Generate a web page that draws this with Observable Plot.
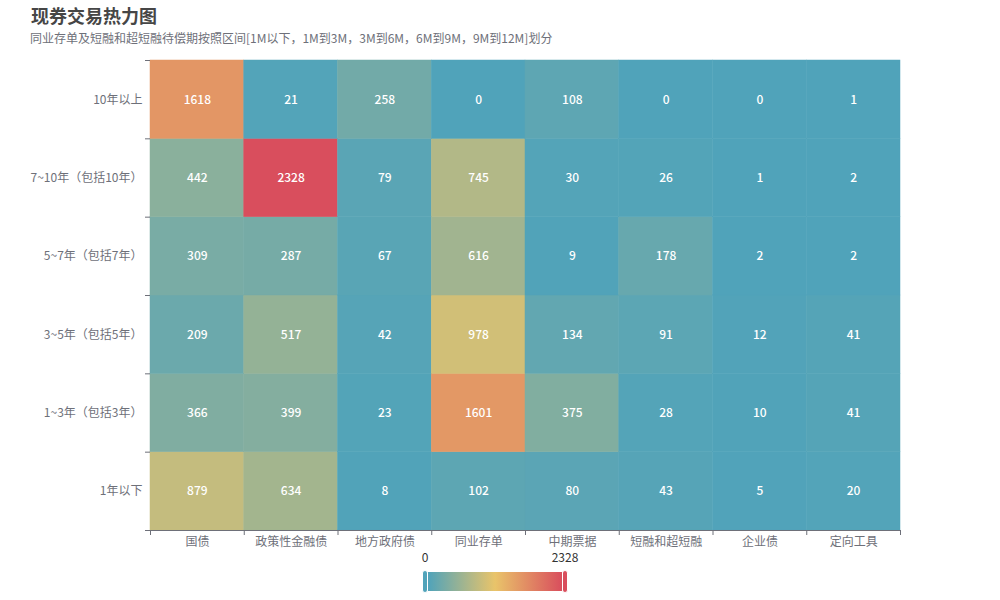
<!DOCTYPE html>
<html><head><meta charset="utf-8">
<script src="https://cdn.jsdelivr.net/npm/d3@7"></script>
<script src="https://cdn.jsdelivr.net/npm/@observablehq/plot@0.6"></script>
<style>
body{margin:0;background:#fff;font-family:"Microsoft YaHei","Noto Sans CJK SC",sans-serif;}
#wrap{position:relative;width:1000px;height:600px;overflow:hidden}
#title{position:absolute;left:31px;top:2px;font-size:18px;font-weight:bold;color:#464646;white-space:nowrap}
#sub{position:absolute;left:30px;top:29px;font-size:12px;color:#6e7079;white-space:nowrap}
#chart{position:absolute;left:0;top:50px}
.lab{position:absolute;font-size:12px;color:#333;transform:translateX(-50%);top:550px;line-height:14px}
#bar{position:absolute;left:428px;top:572px;width:134px;height:19px}
.handle{position:absolute;top:570px;width:6px;height:23px;border-radius:3px;border:1px solid #fff;box-sizing:border-box}
</style></head>
<body>
<div id="wrap">
  <div id="title">现券交易热力图</div>
  <div id="sub">同业存单及短融和超短融待偿期按照区间[1M以下，1M到3M，3M到6M，6M到9M，9M到12M]划分</div>
  <div id="chart"></div>
  <div id="lab0" class="lab" style="left:425px"></div>
  <div id="lab1" class="lab" style="left:565px"></div>
  <div id="bar"></div>
  <div id="h0" class="handle" style="left:422px"></div>
  <div id="h1" class="handle" style="left:562px"></div>
</div>
<script>
const xCats = ['国债','政策性金融债','地方政府债','同业存单','中期票据','短融和超短融','企业债','定向工具'];
// bottom to top
const yCats = ['1年以下','1~3年（包括3年）','3~5年（包括5年）','5~7年（包括7年）','7~10年（包括10年）','10年以上'];
const row1y   = [879, 634, 8, 102, 80, 43, 5, 20];
const row1to3 = [366, 399, 23, 1601, 375, 28, 10, 41];
const row3to5 = [209, 517, 42, 978, 134, 91, 12, 41];
const row5to7 = [309, 287, 67, 616, 9, 178, 2, 2];
const row7to10 = [442, 2328, 79, 745, 30, 26, 1, 2];
const row10up = [1618, 21, 258, 0, 108, 0, 0, 1];
const rows = [row1y, row1to3, row3to5, row5to7, row7to10, row10up];
const colorRange = ['#50a3ba', '#e9c46a', '#d94e5d'];

const cells = [];
rows.forEach((r, yi) => r.forEach((v, xi) => cells.push({xi, yi, value: v})));
const vmin = 0, vmax = d3.max(cells, d => d.value);

const axisColor = "#6e7079";
const chart = Plot.plot({
  width: 1000, height: 502,
  marginLeft: 150, marginRight: 100, marginTop: 10, marginBottom: 22,
  x: {domain: [0, xCats.length]},
  y: {domain: [0, yCats.length]},
  color: {type: "linear", domain: [vmin, (vmin + vmax) / 2, vmax], range: colorRange, interpolate: "rgb"},
  style: {fontFamily: '"Microsoft YaHei","Noto Sans CJK SC",sans-serif', fontSize: "12px", color: axisColor, background: "white"},
  marks: [
    Plot.rect(cells, {x1: "xi", x2: d => d.xi + 1, y1: "yi", y2: d => d.yi + 1, fill: "value", stroke: "value", strokeWidth: 0.5}),
    Plot.text(cells, {x: d => d.xi + 0.5, y: d => d.yi + 0.5, text: d => String(d.value), fill: "white", fontSize: 12, fontWeight: 500}),
    Plot.axisX({ticks: d3.range(xCats.length).map(i => i + 0.5), tickFormat: v => xCats[Math.floor(v)], tickSize: 0, tickPadding: 7, label: null, fill: axisColor}),
    Plot.axisX({ticks: d3.range(xCats.length + 1), tickFormat: () => "", tickSize: 5, label: null, stroke: axisColor}),
    Plot.axisY({ticks: d3.range(yCats.length).map(i => i + 0.5), tickFormat: v => yCats[Math.floor(v)], tickSize: 0, tickPadding: 8, label: null, fill: axisColor}),
    Plot.axisY({ticks: d3.range(yCats.length + 1), tickFormat: () => "", tickSize: 5, label: null, stroke: axisColor}),
    Plot.ruleY([0], {stroke: axisColor})
  ]
});
document.getElementById("chart").appendChild(chart);

document.getElementById("lab0").textContent = vmin;
document.getElementById("lab1").textContent = vmax;
document.getElementById("bar").style.background = `linear-gradient(to right, ${colorRange.join(",")})`;
document.getElementById("h0").style.background = colorRange[0];
document.getElementById("h1").style.background = colorRange[colorRange.length - 1];
</script>
</body></html>
